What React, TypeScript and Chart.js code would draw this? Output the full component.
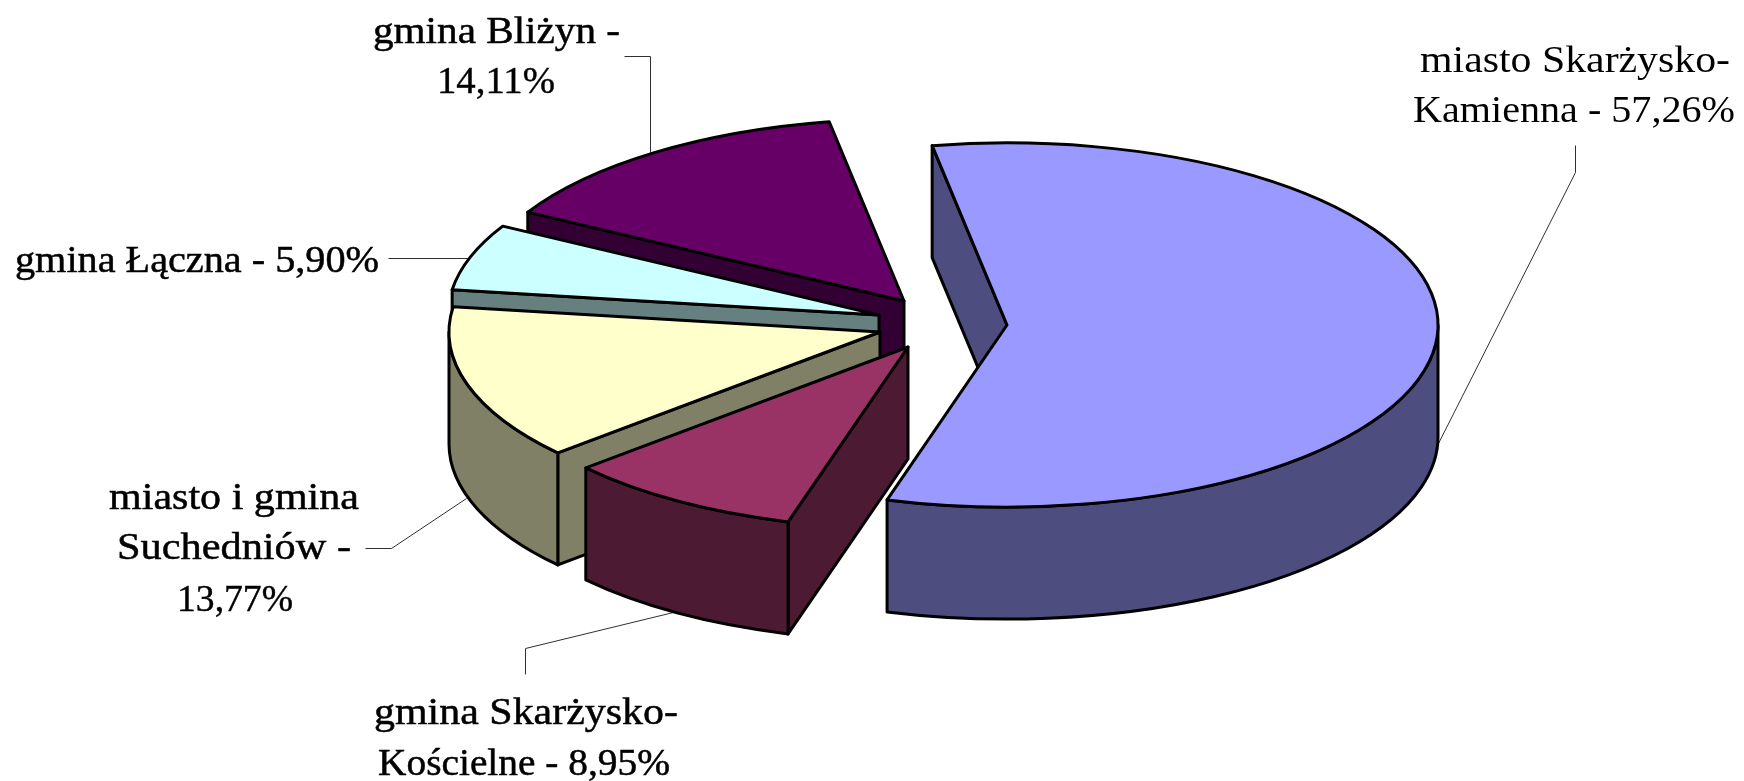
import React, { useEffect, useRef } from "react";
import { Chart, registerables } from "chart.js";

Chart.register(...registerables);

const categories = [
  "miasto Skarżysko-Kamienna",
  "gmina Skarżysko-Kościelne",
  "miasto i gmina Suchedniów",
  "gmina Łączna",
  "gmina Bliżyn",
];
const values = [57.26, 8.95, 13.77, 5.9, 14.11];
const topColors = ["#9999FF", "#993366", "#FFFFCC", "#CCFFFF", "#660066"];
const sideColors = ["#4D4D80", "#4D1A33", "#808066", "#668080", "#330033"];

// explosion of each slice, from the pie centre, in pixels
const sliceShift = [
  [128, 10],
  [29, 32],
  [1, 17],
  [0, 0],
  [25, -14],
];
const paintOrder = [4, 3, 2, 1, 0];
const SQUASH = 0.4225;
const DEPTH = 112;
const ROTATION = -10;
const RADIUS = 431;

const labelLines = [
  ["miasto Skarżysko-", 1420, 72, 310, 0],
  ["Kamienna - 57,26%", 1413, 122, 322, 0],
  ["gmina Bliżyn -", 373, 43, 247, 0.5],
  ["14,11%", 437, 93, 118, 0.4],
  ["gmina Łączna - 5,90%", 15, 272, 364, 0.5],
  ["miasto i gmina", 109, 509, 250, 0.5],
  ["Suchedniów -", 117, 559, 234, 0.5],
  ["13,77%", 177, 611, 116, 0.4],
  ["gmina Skarżysko-", 374, 724, 304, 0.5],
  ["Kościelne - 8,95%", 378, 775, 292, 0.5],
];

const leaderLines = [
  [[1575, 145], [1575, 172], [1437, 445]],
  [[624, 56], [650, 56], [650, 153]],
  [[388, 258], [469, 258]],
  [[365, 548], [391, 548], [466, 498]],
  [[525, 674], [525, 648], [677, 611]],
];

const pie3d = {
  id: "pie3d",
  beforeDatasetsDraw(chart: any) {
    const ctx: CanvasRenderingContext2D = chart.ctx;
    const arcs = chart.getDatasetMeta(0).data;

    ctx.save();
    ctx.strokeStyle = "#303030";
    ctx.lineWidth = 1;
    leaderLines.forEach((pts) => {
      ctx.beginPath();
      pts.forEach(([x, y], i) => (i ? ctx.lineTo(x + 0.5, y + 0.5) : ctx.moveTo(x + 0.5, y + 0.5)));
      ctx.stroke();
    });
    ctx.restore();

    paintOrder.forEach((i) => {
      const arc = arcs[i];
      const cx = arc.x + sliceShift[i][0];
      const cy = arc.y + sliceShift[i][1];
      const rx = arc.outerRadius;
      const ry = rx * SQUASH;
      const s = arc.startAngle;
      const e = arc.endAngle;
      const px = (a: number) => cx + rx * Math.cos(a);
      const py = (a: number) => cy + ry * Math.sin(a);

      ctx.save();
      ctx.lineJoin = "round";
      ctx.lineWidth = 3;
      ctx.strokeStyle = "#000";
      ctx.fillStyle = sideColors[i];

      const quad = (a: number) => {
        ctx.beginPath();
        ctx.moveTo(cx, cy);
        ctx.lineTo(px(a), py(a));
        ctx.lineTo(px(a), py(a) + DEPTH);
        ctx.lineTo(cx, cy + DEPTH);
        ctx.closePath();
        ctx.fill();
        ctx.stroke();
      };
      if (Math.cos(s) < 0) quad(s);
      if (Math.cos(e) > 0) quad(e);

      for (let k = -1; k <= 1; k++) {
        const a = Math.max(s, k * 2 * Math.PI);
        const b = Math.min(e, k * 2 * Math.PI + Math.PI);
        if (b > a) {
          ctx.beginPath();
          ctx.ellipse(cx, cy, rx, ry, 0, a, b);
          ctx.lineTo(px(b), py(b) + DEPTH);
          ctx.ellipse(cx, cy + DEPTH, rx, ry, 0, b, a, true);
          ctx.closePath();
          ctx.fill();
          ctx.stroke();
        }
      }

      // top face: the library's own arc element, tilted
      ctx.save();
      ctx.translate(cx, cy);
      ctx.scale(1, SQUASH);
      ctx.translate(-arc.x, -arc.y);
      arc.draw(ctx);
      ctx.restore();

      ctx.beginPath();
      ctx.moveTo(cx, cy);
      ctx.ellipse(cx, cy, rx, ry, 0, s, e);
      ctx.closePath();
      ctx.stroke();
      ctx.restore();
    });

    ctx.save();
    ctx.fillStyle = "#000";
    ctx.strokeStyle = "#000";
    ctx.font = '38px "Liberation Serif"';
    ctx.textBaseline = "alphabetic";
    labelLines.forEach(([t, x, y, w, weight]: any) => {
      ctx.save();
      ctx.translate(x, y);
      ctx.scale(w / ctx.measureText(t).width, 1);
      ctx.fillText(t, 0, 0);
      if (weight) {
        ctx.lineWidth = weight;
        ctx.strokeText(t, 0, 0);
      }
      ctx.restore();
    });
    ctx.restore();
    return false;
  },
};

export default function App() {
  const ref = useRef<HTMLCanvasElement>(null);
  useEffect(() => {
    const chart = new Chart(ref.current as HTMLCanvasElement, {
      type: "pie",
      data: {
        labels: categories,
        datasets: [{ data: values, backgroundColor: topColors, borderWidth: 0 }],
      },
      options: {
        responsive: false,
        animation: false,
        devicePixelRatio: 1,
        rotation: ROTATION,
        radius: RADIUS,
        layout: { padding: { left: 14, bottom: 151 } },
        plugins: { legend: { display: false }, tooltip: { enabled: false } },
      },
      plugins: [pie3d],
    } as any);
    return () => chart.destroy();
  }, []);
  return (
    <div style={{ position: "fixed", left: 0, top: 0, width: 1744, height: 781, background: "#fff" }}>
      <canvas ref={ref} width={1744} height={781} style={{ display: "block" }} />
    </div>
  );
}
